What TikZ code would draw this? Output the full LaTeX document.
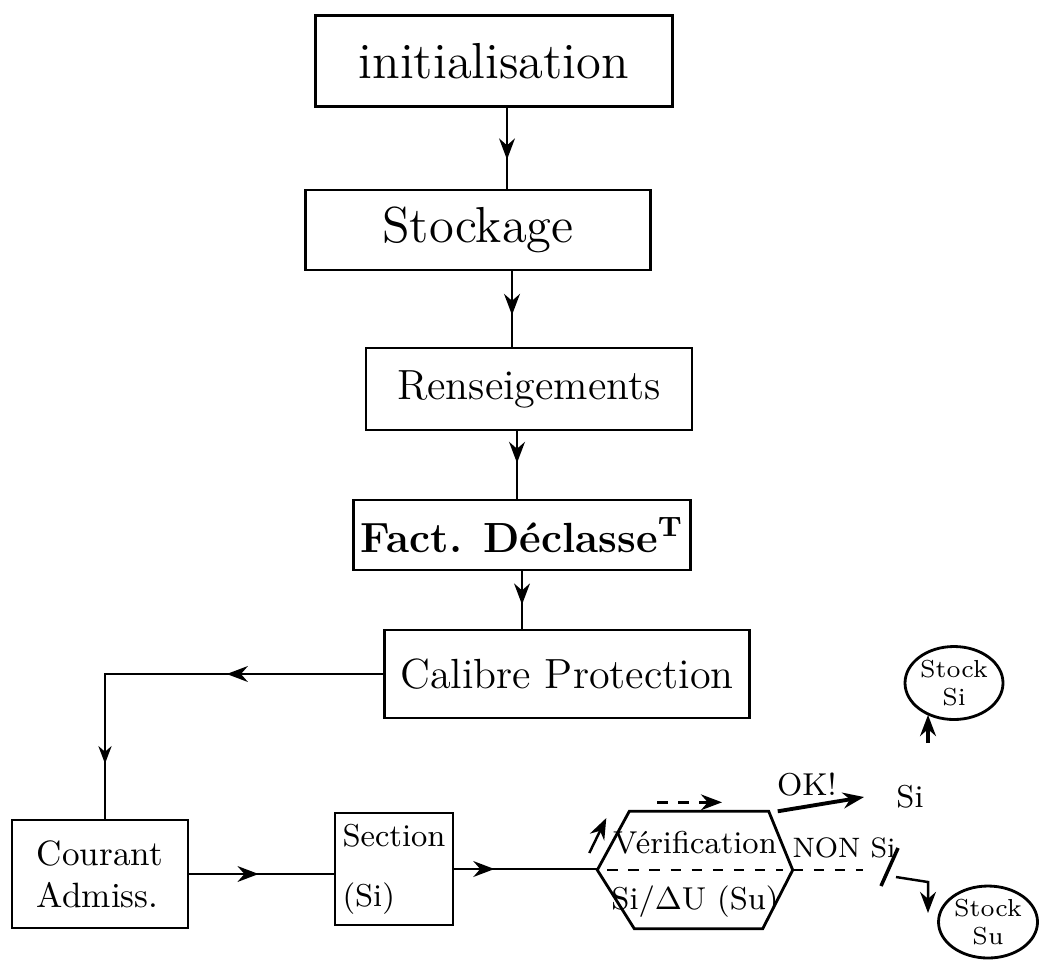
\documentclass[tikz,border=0pt]{standalone}
\usepackage{tikz}
\usetikzlibrary{positioning, arrows.meta, decorations.markings, shapes.geometric}

\begin{document}
\begin{tikzpicture}[
    box/.style={draw, line width=0.8pt, inner sep=2pt},
    stk/.style={draw, ellipse, line width=0.8pt, inner sep=0pt, font=\scriptsize, align=center},
    lbl/.style={font=\small},
    arr/.style={line width=0.7pt, -{Stealth[length=6pt]}},
    mid/.style={line width=0.7pt, postaction={decorate},
      decoration={markings, mark=at position #1 with {\arrow{Stealth[length=6pt]}}}},
    mid/.default=0.5,
  ]
    \useasboundingbox (0,0) rectangle (10.4,9.6);

    % main column
    \node[box, minimum width=3.57cm, minimum height=0.91cm, font=\Large] (init) at (4.94,8.99) {initialisation};
    \node[box, minimum width=3.45cm, minimum height=0.80cm, font=\Large] (stock) at (4.78,7.30) {Stockage};
    \node[box, minimum width=3.26cm, minimum height=0.82cm, font=\large] (rens) at (5.29,5.71) {Renseigements};
    \node[box, minimum width=3.32cm, minimum height=0.70cm, font=\large\bfseries] (fact) at (5.22,4.25) {Fact. Déclasse\textsuperscript{T}};
    \node[box, minimum width=3.65cm, minimum height=0.88cm, font=\large] (calib) at (5.67,2.86) {Calibre Protection};
    \foreach \a/\b/\dx/\p in {init/stock/1.3/0.64, stock/rens/3.4/0.58, rens/fact/-1.2/0.47, fact/calib/0/0.58}
      \draw[mid=\p] ([xshift=\dx mm]\a.south) -- ([xshift=\dx mm]\a.south |- \b.north);

    % bottom row
    \node[box, minimum width=1.76cm, minimum height=1.08cm, align=left] (cour) at (1.00,0.86) {Courant\\Admiss.};
    \node[box, minimum width=1.18cm, minimum height=1.12cm, align=left, font=\small] (sect) at (3.94,0.91) {Section\\[6pt](Si)};
    \draw[line width=0.7pt, postaction={decorate},
      decoration={markings, mark=at position 0.37 with {\arrow{Stealth[length=6pt]}},
        mark=at position 0.87 with {\arrow{Stealth[length=5pt]}}}]
      (calib.west) -| ([xshift=0.5mm]cour.north);
    \draw[mid=0.48] (cour.east) -- (cour.east -| sect.west);

    % verification
    \node[minimum width=1.94cm, minimum height=1.16cm, inner sep=0pt] (verif) at (6.95,0.90) {};
    \draw[line width=0.8pt] (verif.west) -- ([xshift=3.2mm]verif.north west) -- ([xshift=-2.4mm]verif.north east)
      -- (verif.east) -- ([xshift=-3mm]verif.south east) -- ([xshift=3.7mm]verif.south west) -- cycle;
    \draw[dashed, line width=0.8pt] ([xshift=1mm]verif.west) -- ([xshift=-1mm]verif.east);
    \node[font=\small, above=1pt of verif.center] (verifTop) {Vérification};
    \node[font=\small, below=1pt of verif.center] (verifBot) {Si/$\Delta$U (Su)};
    \draw[mid=0.28] (sect.east) -- (sect.east -| verif.west);
    \draw[arr] ([xshift=-0.8mm, yshift=1.7mm]verif.west) -- ++(0.17,0.35);
    \draw[arr, dashed] ([xshift=-3.8mm, yshift=0.9mm]verif.north) -- ++(0.65,0);

    % outputs
    \node[stk, minimum width=0.98cm, minimum height=0.73cm] (stockSi) at (9.54,2.77) {Stock\\Si};
    \node[stk, minimum width=0.99cm, minimum height=0.72cm] (stockSu) at (9.88,0.38) {Stock\\Su};
    \node[lbl] (okSi) at (9.10,1.63) {Si};
    \node[lbl, left=3.5mm of okSi, yshift=1.2mm] (okLbl) {OK!};
    \draw[arr, line width=1.1pt] ([xshift=-1.5mm]verif.north east) -- ([xshift=-2mm]okSi.west);
    \draw[arr, line width=1.1pt] ([xshift=1.8mm, yshift=3mm]okSi.north) -- ([xshift=1.8mm, yshift=0.6mm]okSi.north |- stockSi.south);

    \node[font=\footnotesize] (nonLbl) at (8.44,1.12) {NON Si};
    \draw[dashed, line width=0.7pt] (verif.east) -- ++(0.7,0);
    \draw[line width=1pt] (8.98,1.12) -- (8.81,0.74);
    \coordinate (nonStart) at (8.96,0.83);
    \coordinate (nonTurn) at (9.28,0.78);
    \draw[arr] (nonStart) -- (nonTurn) -- ([yshift=0.9mm]nonTurn |- stockSu.west);
\end{tikzpicture}
\end{document}
